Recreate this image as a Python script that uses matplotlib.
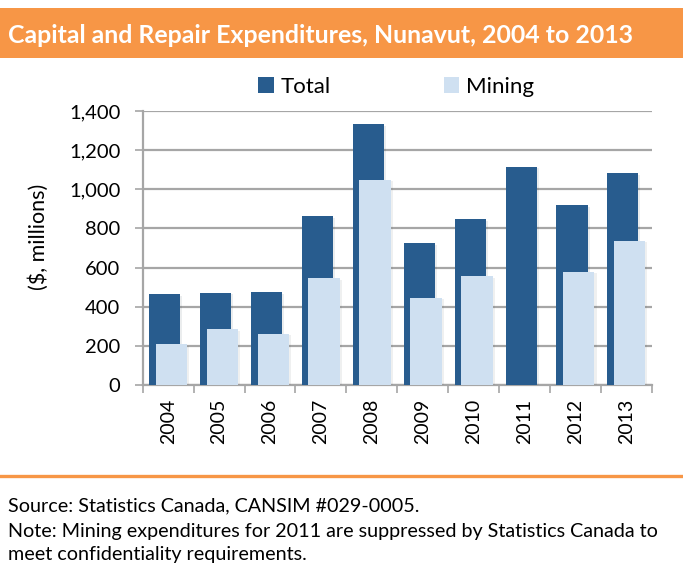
import numpy as np
import matplotlib.pyplot as plt
import matplotlib as mpl
from matplotlib.patches import Rectangle, Patch
from matplotlib.lines import Line2D
import matplotlib.patheffects as pe

plt.rcParams['font.family'] = ['Lato', 'DejaVu Sans']

years = ['2004', '2005', '2006', '2007', '2008', '2009', '2010', '2011', '2012', '2013']
total = [463, 470, 474, 862, 1332, 724, 847, 1114, 918, 1082]
# 2011 mining figure suppressed
mining = [208, 285, 261, 545, 1048, 446, 555, np.nan, 577, 737]

W, H = 683, 571
dark_blue = '#285C8E'
light_blue = '#CFE0F1'
orange = '#F79646'
grid_grey = '#A6A6A6'


def fx(x):
    return x / W


def fy(y):
    return 1 - y / H


fig = plt.figure(figsize=(W / 100, H / 100), dpi=100)

# header band
fig.patches.append(Rectangle((0, fy(58)), 1, (58 - 8) / H, transform=fig.transFigure,
                             facecolor=orange, edgecolor='none', zorder=0))
fig.text(fx(8), fy(43), 'Capital and Repair Expenditures, Nunavut, 2004 to 2013',
         color='white', fontsize=17.9, fontweight='bold', va='baseline', ha='left')

ax = fig.add_axes([fx(142.7), fy(385), (651.7 - 142.7) / W, (385 - 111) / H])

x = np.arange(len(years))
shadow = [pe.SimplePatchShadow(offset=(1.5, -1), alpha=0.08), pe.Normal()]
b1 = ax.bar(x - 0.066, total, width=0.61, color=dark_blue, zorder=3)
b2 = ax.bar(x + 0.066, mining, width=0.62, color=light_blue, zorder=4)
for b in list(b1) + list(b2):
    b.set_path_effects(shadow)

ax.set_xlim(-0.5, len(years) - 0.5)
ax.set_ylim(0, 1400)
ax.set_yticks(np.arange(0, 1401, 200))
ax.yaxis.set_major_formatter(mpl.ticker.FuncFormatter(lambda v, p: f'{int(v):,}'))
ax.yaxis.grid(True, color=grid_grey, linewidth=1.6, zorder=0)
ax.set_axisbelow(True)

ax.set_xticks(x)
ax.set_xticklabels(years, rotation=90)
ax.set_xticks(np.arange(-0.5, len(years)), minor=True)
ax.tick_params(axis='x', which='major', length=0, pad=10, labelsize=14)
ax.tick_params(axis='x', which='minor', length=6, width=1.2, color=grid_grey, direction='out')
ax.tick_params(axis='y', length=6, width=1.2, color=grid_grey, labelsize=14.5, pad=10)

for s in ['top', 'right']:
    ax.spines[s].set_visible(False)
for s in ['left', 'bottom']:
    ax.spines[s].set_color(grid_grey)
    ax.spines[s].set_linewidth(1.6)

fig.text(fx(39), fy(237), '($, millions)', rotation=90, fontsize=15.5, ha='center', va='center')

handles = [Patch(facecolor=dark_blue, label='Total'), Patch(facecolor=light_blue, label='Mining')]
fig.legend(handles=handles, loc='center', bbox_to_anchor=(fx(396), fy(87)), ncol=2, frameon=False,
           fontsize=16, handlelength=0.7, handleheight=0.7, handletextpad=0.3, columnspacing=5.1)

# footer rule and notes
fig.add_artist(Line2D([0, 1], [fy(475.5), fy(475.5)], transform=fig.transFigure,
                      color=orange, linewidth=2.4))
fig.text(fx(8), fy(511.5), 'Source: Statistics Canada, CANSIM #029-0005.', fontsize=14.2, va='baseline')
fig.text(fx(8), fy(536.5), 'Note: Mining expenditures for 2011 are suppressed by Statistics Canada to',
         fontsize=14.2, va='baseline')
fig.text(fx(8), fy(560), 'meet confidentiality requirements.', fontsize=14.2, va='baseline')

fig.savefig('out.png', dpi=100)
